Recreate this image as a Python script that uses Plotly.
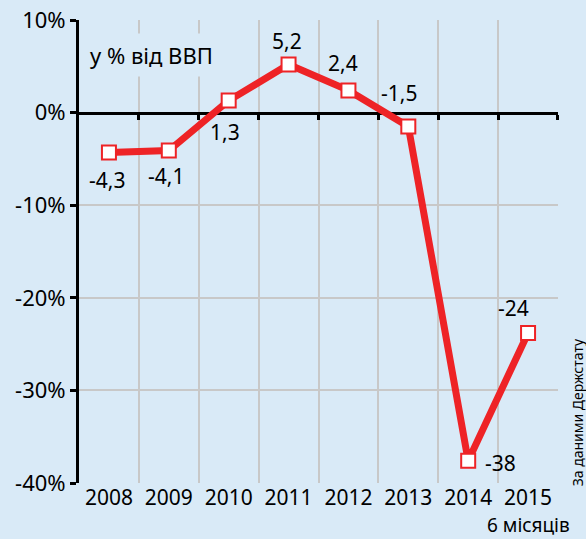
import plotly.graph_objects as go

years = ["2008", "2009", "2010", "2011", "2012", "2013", "2014", "2015"]
values = [-4.3, -4.1, 1.3, 5.2, 2.4, -1.5, -37.6, -23.8]
labels = ["-4,3", "-4,1", "1,3", "5,2", "2,4", "-1,5", "-38", "-24"]
label_dx = [-2, -3, -4, -2, -5, -9, 32, -15]
label_dy = [-28, -25, -31, 23, 27, 33, -2, 25]
y_ticks = [-40, -30, -20, -10, 0, 10]
y_ticktext = ["-40%", "-30%", "-20%", "-10%", "0%", "10%"]

BG = "#d9eaf7"
GRID = "#c8c8c8"
RED = "#ee2326"
FONT = "Noto Sans"

xi = list(range(len(years)))
grid_x = [i + 0.5 for i in xi[:-1]] + [len(xi) - 0.51]

fig = go.Figure()
fig.add_trace(go.Scatter(
    x=xi, y=values, mode="lines+markers",
    line=dict(color=RED, width=7),
    marker=dict(symbol="square", size=14, color="white", line=dict(color=RED, width=2)),
    hoverinfo="skip", showlegend=False, xaxis="x", yaxis="y",
))
# invisible trace to keep the zero-line axis alive
fig.add_trace(go.Scatter(x=xi, y=values, mode="markers", marker=dict(opacity=0),
                         hoverinfo="skip", showlegend=False, xaxis="x2", yaxis="y"))

for x, v, t, dx, dy in zip(xi, values, labels, label_dx, label_dy):
    fig.add_annotation(x=x, y=v, text=t, showarrow=False, xshift=dx, yshift=dy,
                       xanchor="center", yanchor="middle",
                       font=dict(family=FONT, size=21, color="black"))

fig.add_annotation(xref="paper", yref="paper", x=0.152, y=0.924, text="у % від ВВП",
                   xanchor="center", yanchor="middle",
                   showarrow=False, bgcolor=BG, borderpad=6,
                   font=dict(family=FONT, size=22, color="black"))
fig.add_annotation(xref="paper", yref="paper", x=1.040, y=0.153, text="За даними Держстату",
                   xanchor="center", yanchor="middle",
                   showarrow=False, textangle=-90,
                   font=dict(family=FONT, size=14, color="black"))
fig.add_annotation(xref="paper", yref="paper", x=1.029, y=-0.09, xanchor="right",
                   yanchor="middle", text="6 місяців", showarrow=False,
                   font=dict(family=FONT, size=19, color="black"))

fig.update_layout(
    width=586, height=539,
    margin=dict(l=79, r=28, t=20, b=56),
    paper_bgcolor=BG, plot_bgcolor=BG,
    font=dict(family=FONT, size=21, color="black"),
    xaxis=dict(
        range=[-0.5, 7.5], tickmode="array", tickvals=xi, ticktext=years,
        showgrid=False, zeroline=False, showline=False, ticks="", automargin=False,
        tickfont=dict(size=21),
        minor=dict(tickmode="array", tickvals=grid_x, showgrid=True, gridcolor=GRID,
                   gridwidth=2, ticks=""),
    ),
    xaxis2=dict(
        overlaying="x", anchor="free", position=0.8, range=[-0.5, 7.5],
        tickmode="array", tickvals=grid_x, showticklabels=False,
        ticks="outside", ticklen=5, tickwidth=3, tickcolor="black", automargin=False,
        showline=True, linecolor="black", linewidth=3, showgrid=False, zeroline=False,
        layer="below traces",
    ),
    yaxis=dict(
        range=[-40, 10], tickmode="array", tickvals=y_ticks, ticktext=y_ticktext,
        showgrid=True, gridcolor=GRID, gridwidth=2, zeroline=False, automargin=False,
        showline=True, linecolor="black", linewidth=3,
        ticks="outside", ticklen=6, tickwidth=3, tickcolor="black",
        tickfont=dict(size=22),
    ),
)

fig.write_html("out.html", config={"displayModeBar": False},
               post_script="document.body.style.margin='0';document.body.style.background='%s';" % BG)
